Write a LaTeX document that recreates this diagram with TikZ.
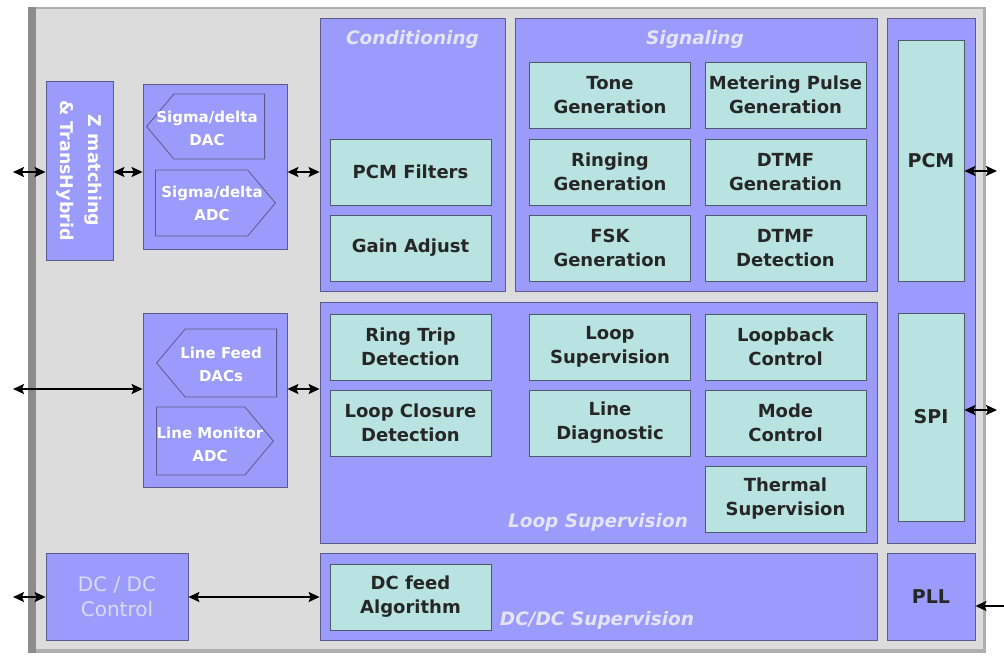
\documentclass[tikz,border=0pt]{standalone}
\usepackage{fontspec}
\setsansfont{DejaVu Sans}
\usepackage{tikz}
\usetikzlibrary{positioning, shapes.symbols, arrows.meta}

\definecolor{bgray}{HTML}{DCDCDC}
\definecolor{edgegray}{HTML}{8C8C8C}
\definecolor{blockfill}{HTML}{9B9BFB}
\definecolor{blockline}{HTML}{5A5A8C}
\definecolor{unitfill}{HTML}{B8E3E1}
\definecolor{unitline}{HTML}{4E5A6A}
\definecolor{titletext}{HTML}{E4E4F6}

\begin{document}
\begin{tikzpicture}[
    x=1pt, y=-1pt,
    font=\sffamily,
    block/.style={rectangle, draw=blockline, fill=blockfill, line width=0.8pt, inner sep=0pt},
    unit/.style={rectangle, draw=unitline, fill=unitfill, line width=0.8pt,
        minimum width=161pt, minimum height=66pt, inner sep=0pt, align=center,
        font=\sffamily\bfseries\fontsize{18}{24}\selectfont, text=black!85},
    conv/.style={signal, draw=blockline, fill=blockfill, line width=0.8pt,
        signal pointer angle=100, inner sep=0pt},
    convtext/.style={align=center, font=\sffamily\bfseries\fontsize{15}{23}\selectfont, text=white},
    title/.style={font=\sffamily\bfseries\itshape\fontsize{18.5}{20}\selectfont, text=titletext},
    link/.style={{Stealth[length=11pt,width=10pt,inset=2pt]}-{Stealth[length=11pt,width=10pt,inset=2pt]}, line width=1.6pt}
]
\useasboundingbox (0,0) rectangle (1004,656);

% Chip outline
\fill[edgegray!70] (28,7) rectangle (986,653);
\fill[bgray] (36,9) rectangle (983,649);
\fill[edgegray] (28,7) rectangle (36,653);

% Analog front end
\node[block, minimum width=67pt, minimum height=179pt] (zmatch) at (79.5,170.5) {};
\node[rotate=-90, align=center, font=\sffamily\bfseries\fontsize{17.5}{28}\selectfont, text=white] (zlabel) at (zmatch.center) {Z matching\\\& TransHybrid};

\node[block, minimum width=144pt, minimum height=165pt] (sigbox) at (215,166.5) {};
\node[conv, signal to=west, minimum width=118pt, minimum height=65pt, anchor=east] (sdac) at (265,126.5) {};
\node[convtext] (sdactext) at (207,128) {Sigma/delta\\DAC};
\node[conv, signal to=east, minimum width=120pt, minimum height=66pt, anchor=west] (sadc) at (155,203) {};
\node[convtext] (sadctext) at (212,203.5) {Sigma/delta\\ADC};

\node[block, minimum width=144pt, minimum height=174pt] (feedbox) at (215,400) {};
\node[conv, signal to=west, minimum width=120pt, minimum height=68pt, anchor=east] (fdac) at (277,363) {};
\node[convtext] (fdactext) at (221,364) {Line Feed\\DACs};
\node[conv, signal to=east, minimum width=117pt, minimum height=68pt, anchor=west] (madc) at (156,441) {};
\node[convtext] (madctext) at (210,444) {Line Monitor\\ADC};

\node[block, minimum width=142pt, minimum height=87pt, align=center,
      font=\sffamily\fontsize{20}{25}\selectfont, text=titletext!85!blockfill] (dcctl) at (117,596.5) {DC / DC\\Control};

% DSP blocks
\node[block, minimum width=185pt, minimum height=273pt] (cond) at (412.5,154.5) {};
\node[title] (condtitle) at (412.5,39) {Conditioning};
\node[unit] (pcmf) at (410.5,172) {PCM Filters};
\node[unit] (gain) at (410.5,248) {Gain Adjust};

\node[block, minimum width=362pt, minimum height=273pt] (sig) at (696,154.5) {};
\node[title] (sigtitle) at (695,39) {Signaling};
\node[unit] (tone) at (610,95) {Tone\\Generation};
\node[unit] (meter) at (785.5,95) {Metering Pulse\\Generation};
\node[unit] (ring) at (610,172) {Ringing\\Generation};
\node[unit] (dtmfg) at (785.5,172) {DTMF\\Generation};
\node[unit] (fsk) at (610,248) {FSK\\Generation};
\node[unit] (dtmfd) at (785.5,248) {DTMF\\Detection};

\node[block, minimum width=557pt, minimum height=241pt] (loop) at (598.5,422.5) {};
\node[title] (looptitle) at (598,522) {Loop Supervision};
\node[unit] (rtrip) at (410.5,347) {Ring Trip\\Detection};
\node[unit] (lclose) at (410.5,423) {Loop Closure\\Detection};
\node[unit] (lsup) at (610,347) {Loop\\Supervision};
\node[unit] (ldiag) at (610,423) {Line\\Diagnostic};
\node[unit] (lback) at (785.5,347) {Loopback\\Control};
\node[unit] (mode) at (785.5,423) {Mode\\Control};
\node[unit] (therm) at (785.5,499) {Thermal\\Supervision};

\node[block, minimum width=557pt, minimum height=87pt] (dcsup) at (598.5,596.5) {};
\node[title] (dctitle) at (597,620) {DC/DC Supervision};
\node[unit] (dcfeed) at (410.5,597) {DC feed\\Algorithm};

% Interfaces
\node[block, minimum width=88pt, minimum height=525pt] (iface) at (931,280.5) {};
\node[unit, minimum width=66pt, minimum height=241pt, font=\sffamily\bfseries\fontsize{19}{24}\selectfont] (pcm) at (931,160.5) {PCM};
\node[unit, minimum width=66pt, minimum height=208pt, font=\sffamily\bfseries\fontsize{19}{24}\selectfont] (spi) at (931,417) {SPI};
\node[block, minimum width=88pt, minimum height=87pt,
      font=\sffamily\bfseries\fontsize{19}{24}\selectfont, text=black!85] (pll) at (931,596.5) {PLL};

% Connections
\coordinate (ain) at (13,172);
\coordinate (fin) at (13,389);
\coordinate (din) at (13,597);
\coordinate (pcmout) at (997,171);
\coordinate (spiout) at (997,410);
\coordinate (clkin) at (1004,606);

\draw[link] (ain) -- (ain -| zmatch.west);
\draw[link] (ain -| zmatch.east) -- (ain -| sigbox.west);
\draw[link] (ain -| sigbox.east) -- (ain -| cond.west);
\draw[link] (fin) -- (fin -| feedbox.west);
\draw[link] (fin -| feedbox.east) -- (fin -| loop.west);
\draw[link] (din) -- (din -| dcctl.west);
\draw[link] (din -| dcctl.east) -- (din -| dcsup.west);
\draw[link] (pcmout -| pcm.east) -- (pcmout);
\draw[link] (spiout -| spi.east) -- (spiout);
\draw[-{Stealth[length=11pt,width=10pt,inset=2pt]}, line width=1.6pt] (clkin) -- (clkin -| pll.east);

\end{tikzpicture}
\end{document}
